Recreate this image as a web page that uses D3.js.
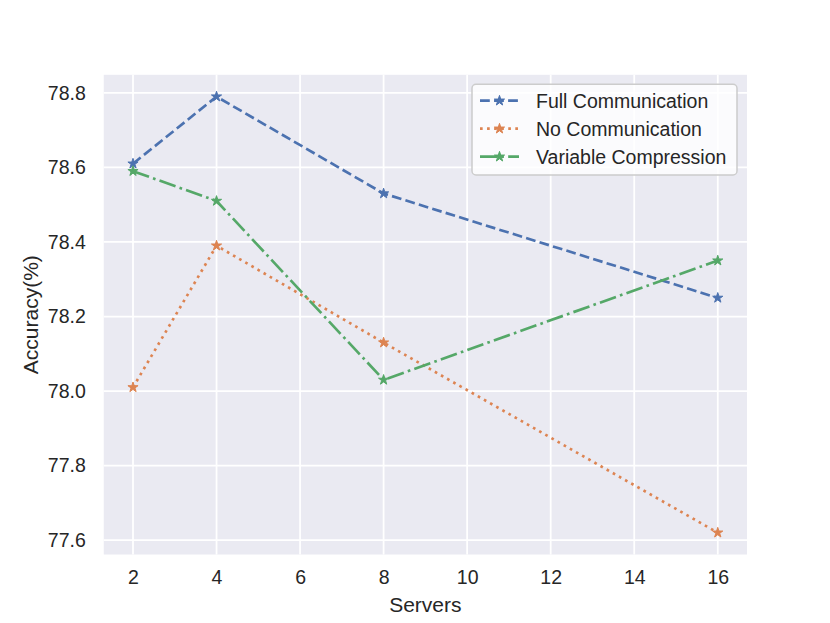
<!DOCTYPE html>
<html>
<head>
<meta charset="utf-8">
<script src="https://cdn.jsdelivr.net/npm/d3@7"></script>
<style>
body{margin:0;background:#fff}
text{font-family:"Liberation Sans",Arial,sans-serif;fill:#262626}
</style>
</head>
<body>
<div id="chart"></div>
<script>
var servers=[2,4,8,16]
var fullComm=[78.61,78.79,78.53,78.25]
var noComm=[78.01,78.39,78.13,77.62]
var varComp=[78.59,78.51,78.03,78.35]
var xTicks=[2,4,6,8,10,12,14,16]
var yTicks=[77.6,77.8,78.0,78.2,78.4,78.6,78.8]

var series=[
  {name:'Full Communication',vals:fullComm,color:'#4C72B0',dash:'9.8,4.25'},
  {name:'No Communication',vals:noComm,color:'#DD8452',dash:'2.66,4.4'},
  {name:'Variable Compression',vals:varComp,color:'#55A868',dash:'17,4.25,2.66,4.25'}
]

var W=830,H=623
var mL=103.75,mR=83,mT=74.8,mB=68.5
var width=W-mL-mR,height=H-mT-mB

var svg=d3.select('#chart').append('svg').attr('width',W).attr('height',H)
var g=svg.append('g').attr('transform','translate('+mL+','+mT+')')

// matplotlib style 5% margins
var xs=d3.scaleLinear().domain([1.3,16.7]).range([0,width])
var allV=fullComm.concat(noComm,varComp)
var ymin=d3.min(allV),ymax=d3.max(allV),pad=(ymax-ymin)*0.05
var ys=d3.scaleLinear().domain([ymin-pad,ymax+pad]).range([height,0])

g.append('rect').attr('width',width).attr('height',height).attr('fill','#EAEAF2')

// grid
g.selectAll('.vg').data(xTicks).enter().append('line')
  .attr('x1',d=>xs(d)).attr('x2',d=>xs(d)).attr('y1',0).attr('y2',height)
  .attr('stroke','#fff').attr('stroke-width',1.77)
g.selectAll('.hg').data(yTicks).enter().append('line')
  .attr('y1',d=>ys(d)).attr('y2',d=>ys(d)).attr('x1',0).attr('x2',width)
  .attr('stroke','#fff').attr('stroke-width',1.77)

// axes (no tick marks, darkgrid)
var xax=g.append('g').attr('transform','translate(0,'+height+')')
  .call(d3.axisBottom(xs).tickValues(xTicks).tickSize(0).tickPadding(16).tickFormat(d3.format('d')))
var yax=g.append('g')
  .call(d3.axisLeft(ys).tickValues(yTicks).tickSize(0).tickPadding(18).tickFormat(d3.format('.1f')))
;[xax,yax].forEach(function(a){
  a.select('.domain').remove()
  a.selectAll('text').style('font-size','19.5px').attr('fill','#262626').style('font-family','"Liberation Sans",Arial,sans-serif')
})

g.append('text').attr('x',width/2).attr('y',height+58).attr('text-anchor','middle')
  .style('font-size','21px').text('Servers')
g.append('text').attr('transform','rotate(-90)').attr('x',-height/2).attr('y',-66)
  .attr('text-anchor','middle').style('font-size','21px').text('Accuracy(%)')

var star=d3.symbol().type(d3.symbolStar).size(32)

series.forEach(function(s){
  var line=d3.line().x((d,i)=>xs(servers[i])).y(d=>ys(d))
  g.append('path').datum(s.vals).attr('d',line).attr('fill','none')
    .attr('stroke',s.color).attr('stroke-width',2.66).attr('stroke-dasharray',s.dash)
  g.selectAll(null).data(s.vals).enter().append('path')
    .attr('d',star).attr('transform',(d,i)=>'translate('+xs(servers[i])+','+ys(d)+')')
    .attr('fill',s.color).attr('stroke',s.color).attr('stroke-width',1)
})

// legend
var lg=svg.append('g').attr('transform','translate(472,84.3)')
lg.append('rect').attr('width',265).attr('height',90.7).attr('rx',4).attr('ry',4)
  .attr('fill','#fff').attr('fill-opacity',0.8).attr('stroke','#cccccc').attr('stroke-width',1.5)
series.forEach(function(s,i){
  var cy=16.4+i*28
  lg.append('line').attr('x1',8).attr('x2',47).attr('y1',cy).attr('y2',cy)
    .attr('stroke',s.color).attr('stroke-width',2.66).attr('stroke-dasharray',s.dash)
  lg.append('path').attr('d',star).attr('transform','translate(27.5,'+cy+')')
    .attr('fill',s.color).attr('stroke',s.color).attr('stroke-width',1)
  lg.append('text').attr('x',64).attr('y',cy).attr('dy','0.35em')
    .style('font-size','19.5px').text(s.name)
})
</script>
</body>
</html>
